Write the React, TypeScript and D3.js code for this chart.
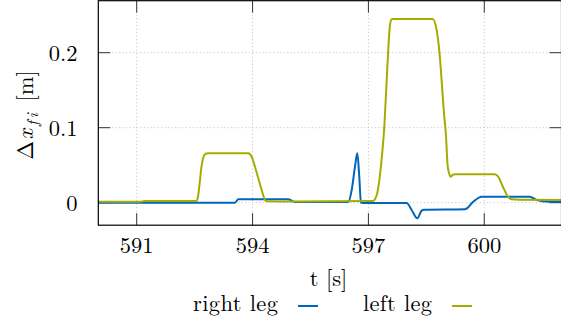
import React from "react";
import * as d3 from "d3";

// ---- data ----
const rightT = [590.0, 593.545, 593.63, 594.92, 595.1, 596.479, 596.567, 596.652, 596.712, 596.763, 596.807, 596.85, 597.99, 598.12, 598.265, 598.38, 598.44, 599.5, 599.715, 599.93, 601.18, 601.36, 601.7, 602.0];
const rightV = [0.0, 0.0, 0.0045, 0.0045, 0.001, 0.001, 0.017, 0.048, 0.066, 0.035, 0.0, -0.0005, -0.0005, -0.0097, -0.0208, -0.0105, -0.0095, -0.0088, 0.0013, 0.008, 0.008, 0.0036, 0.0013, 0.001];

const leftT = [590.0, 591.08, 591.21, 592.54, 592.587, 592.63, 592.672, 592.716, 592.778, 592.846, 593.889, 593.977, 594.063, 594.148, 594.236, 594.321, 594.366, 595.0, 597.12, 597.17, 597.23, 597.29, 597.35, 597.41, 597.47, 597.52, 597.56, 597.61, 598.664, 598.767, 598.84, 598.9, 598.956, 599.008, 599.05, 599.086, 599.13, 599.177, 599.24, 600.277, 600.355, 600.485, 600.614, 600.709, 600.92, 602.0];
const leftV = [0.0013, 0.0013, 0.0022, 0.0022, 0.008, 0.026, 0.046, 0.059, 0.065, 0.066, 0.066, 0.0613, 0.048, 0.0325, 0.017, 0.0036, 0.002, 0.0015, 0.0023, 0.005, 0.013, 0.033, 0.062, 0.1, 0.16, 0.21, 0.238, 0.245, 0.245, 0.23, 0.2, 0.16, 0.12, 0.09, 0.05, 0.04, 0.0347, 0.037, 0.0379, 0.0379, 0.035, 0.021, 0.008, 0.0045, 0.004, 0.0036];

const xTicks = [591, 594, 597, 600];
const yTicks = [0, 0.1, 0.2];
const yTickLabels = ["0", "0.1", "0.2"];
const seriesNames = ["right leg", "left leg"];
const seriesColors = ["#0065BD", "#A2AD00"];

const W = 561;
const H = 326;
const L = 98.3;
const R = 561.5;
const T = 0.7;
const B = 225.2;
const FONT = "'Latin Modern Roman','CMU Serif','Liberation Serif',serif";
const FS = 22.5;
const TXT = "#000";

export default function App() {
  const x = d3.scaleLinear().domain([590, 602]).range([98.1, 561.5]);
  const y = d3.scaleLinear().domain([-0.03, 0.27]).range([225.2, 0.2]);

  const line = d3
    .line<[number, number]>()
    .x((d) => x(d[0]))
    .y((d) => y(d[1]))
    .curve(d3.curveMonotoneX);

  const right: [number, number][] = rightT.map((t, i) => [t, rightV[i]]);
  const left: [number, number][] = leftT.map((t, i) => [t, leftV[i]]);

  const tickLen = 12;
  const tickColor = "#333";
  const gridColor = "#bdbdbd";

  return (
    <svg
      width={W}
      height={H}
      style={{ position: "absolute", left: 0, top: 0, background: "#fff" }}
      fontFamily={FONT}
    >
      <defs>
        <clipPath id="plotclip">
          <rect x={L} y={T} width={R - L} height={B - T} />
        </clipPath>
      </defs>
      <rect x={0} y={0} width={W} height={H} fill="#fff" />

      {/* grid */}
      {xTicks.map((t) => (
        <line key={"gx" + t} x1={x(t)} x2={x(t)} y1={T} y2={B} stroke={gridColor} strokeWidth={1} strokeDasharray="1 2.5" />
      ))}
      {yTicks.map((v) => (
        <line key={"gy" + v} x1={L} x2={R} y1={y(v)} y2={y(v)} stroke={gridColor} strokeWidth={1} strokeDasharray="1 2.5" />
      ))}

      {/* ticks */}
      {xTicks.map((t) => (
        <g key={"tx" + t}>
          <line x1={x(t)} x2={x(t)} y1={B} y2={B - tickLen} stroke={tickColor} strokeWidth={1} />
          <line x1={x(t)} x2={x(t)} y1={T} y2={T + tickLen} stroke={tickColor} strokeWidth={1} />
        </g>
      ))}
      {yTicks.map((v) => (
        <g key={"ty" + v}>
          <line x1={L} x2={L + tickLen} y1={y(v)} y2={y(v)} stroke={tickColor} strokeWidth={1} />
          <line x1={R} x2={R - tickLen} y1={y(v)} y2={y(v)} stroke={tickColor} strokeWidth={1} />
        </g>
      ))}

      {/* series */}
      <g clipPath="url(#plotclip)">
        <path d={line(right) || ""} fill="none" stroke={seriesColors[0]} strokeWidth={2} strokeLinejoin="round" />
        <path d={line(left) || ""} fill="none" stroke={seriesColors[1]} strokeWidth={2} strokeLinejoin="round" />
      </g>

      {/* frame */}
      <rect x={L} y={T} width={R - L} height={B - T} fill="none" stroke="#000" strokeWidth={1.2} />

      {/* tick labels */}
      {xTicks.map((t) => (
        <text key={"lx" + t} x={x(t)} y={252.8} textAnchor="middle" fontSize={FS} fill={TXT}>
          {t}
        </text>
      ))}
      {yTicks.map((v, i) => (
        <text key={"ly" + v} x={77.5} y={y(v) + 7.8} textAnchor="end" fontSize={FS} fill={TXT}>
          {yTickLabels[i]}
        </text>
      ))}

      {/* axis labels */}
      <text x={328.5} y={286} textAnchor="middle" fontSize={FS} fill={TXT} style={{ whiteSpace: "pre" }}>
        {"t [s]"}
      </text>
      <text transform="translate(33,115) rotate(-90)" textAnchor="middle" fontSize={FS} fill={TXT} style={{ whiteSpace: "pre" }}>
        <tspan>Δ</tspan>
        <tspan fontStyle="italic" dx={1.5}>x</tspan>
        <tspan fontStyle="italic" fontSize={16} dy={4.5} dx={3} letterSpacing={3}>fi</tspan>
        <tspan dy={-4.5} dx={1}>{" [m]"}</tspan>
      </text>

      {/* legend */}
      <text x={193} y={311} fontSize={FS} fill={TXT} textLength={85} lengthAdjust="spacing" style={{ whiteSpace: "pre" }}>
        {seriesNames[0]}
      </text>
      <line x1={298} x2={318} y1={306} y2={306} stroke={seriesColors[0]} strokeWidth={2} />
      <text x={363} y={311} fontSize={FS} fill={TXT} textLength={69} lengthAdjust="spacing" style={{ whiteSpace: "pre" }}>
        {seriesNames[1]}
      </text>
      <line x1={452} x2={472} y1={306} y2={306} stroke={seriesColors[1]} strokeWidth={2} />
    </svg>
  );
}
